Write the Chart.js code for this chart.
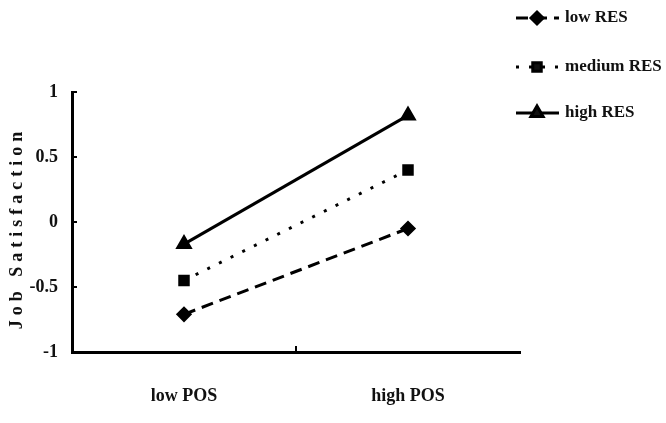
<!DOCTYPE html>
<html>
<head>
<meta charset="utf-8">
<script src="https://cdn.jsdelivr.net/npm/chart.js@4/dist/chart.umd.min.js"></script>
<style>
  body { margin: 0; background: #fff; }
  #wrap { width: 666px; height: 423px; }
</style>
</head>
<body>
<div id="wrap"><canvas id="chart" width="666" height="423"></canvas></div>
<script>
// data
const categories = ['low POS', 'high POS'];
const lowRES = [-0.71, -0.05];
const mediumRES = [-0.45, 0.40];
const highRES = [-0.17, 0.82];
const yTicks = [-1, -0.5, 0, 0.5, 1];
const yTitle = 'Job Satisfaction';

const serif = '"Liberation Serif", "Times New Roman", serif';

// inner tick marks, rotated y title and the legend on the top right
const extrasPlugin = {
    id: 'extras',
    afterDraw(chart) {
        const ctx = chart.ctx;
        const x = chart.scales.x;
        const y = chart.scales.y;
        const area = chart.chartArea;
        ctx.save();
        ctx.strokeStyle = '#000';
        ctx.lineWidth = 2;
        // y tick marks point inward
        yTicks.forEach(v => {
            if (v === -1) return;
            const py = y.getPixelForValue(v);
            ctx.beginPath();
            ctx.moveTo(area.left, py);
            ctx.lineTo(area.left + 5, py);
            ctx.stroke();
        });
        // x tick between the categories
        const mid = (x.getPixelForTick(0) + x.getPixelForTick(1)) / 2;
        ctx.beginPath();
        ctx.moveTo(mid, area.bottom);
        ctx.lineTo(mid, area.bottom - 6);
        ctx.stroke();

        // y title
        ctx.translate(17, (area.top + area.bottom) / 2 + 6);
        ctx.rotate(-Math.PI / 2);
        ctx.font = 'bold 18px ' + serif;
        ctx.letterSpacing = '5px';
        ctx.fillStyle = '#111';
        ctx.textAlign = 'center';
        ctx.textBaseline = 'middle';
        ctx.fillText(yTitle, 0, 0);
        ctx.restore();

        // legend
        ctx.save();
        const rows = [18, 67, 113];
        chart.data.datasets.forEach((ds, i) => {
            const ly = rows[i];
            ctx.strokeStyle = '#000';
            ctx.lineWidth = 3;
            ctx.setLineDash(ds.borderDash || []);
            ctx.beginPath();
            ctx.moveTo(516, ly);
            ctx.lineTo(559, ly);
            ctx.stroke();
            ctx.setLineDash([]);
            Chart.helpers.drawPoint(ctx, {
                pointStyle: ds.pointStyle,
                radius: ds.pointRadius,
                rotation: 0,
                borderWidth: 1
            }, 537, ly);
            ctx.fillStyle = '#111';
            ctx.font = 'bold 17px ' + serif;
            ctx.textAlign = 'left';
            ctx.textBaseline = 'middle';
            ctx.fillText(ds.label, 565, ly);
        });
        ctx.restore();
    }
};

new Chart(document.getElementById('chart'), {
    type: 'line',
    data: {
        labels: categories,
        datasets: [
            {
                label: 'low RES',
                data: lowRES,
                borderColor: '#000',
                backgroundColor: '#000',
                borderWidth: 3,
                borderDash: [12, 7],
                pointStyle: 'rectRot',
                pointRadius: 6
            },
            {
                label: 'medium RES',
                data: mediumRES,
                borderColor: '#000',
                backgroundColor: '#000',
                borderWidth: 3,
                borderDash: [3, 10],
                pointStyle: 'rect',
                pointRadius: 6
            },
            {
                label: 'high RES',
                data: highRES,
                borderColor: '#000',
                backgroundColor: '#000',
                borderWidth: 3,
                pointStyle: 'triangle',
                pointRadius: 7
            }
        ]
    },
    options: {
        responsive: false,
        animation: false,
        layout: { padding: { top: 92, right: 146, left: 0, bottom: 0 } },
        plugins: {
            legend: { display: false },
            tooltip: { enabled: false }
        },
        scales: {
            x: {
                type: 'category',
                offset: true,
                grid: { display: false, drawTicks: false },
                border: { display: true, color: '#000', width: 3 },
                ticks: {
                    padding: 34,
                    color: '#111',
                    font: { family: serif, size: 18, weight: 'bold' }
                },
                afterFit(scale) { scale.height = 71; }
            },
            y: {
                min: -1,
                max: 1,
                afterBuildTicks(scale) { scale.ticks = yTicks.map(v => ({ value: v })); },
                grid: { display: false, drawTicks: false },
                border: { display: true, color: '#000', width: 3 },
                ticks: {
                    padding: 14,
                    color: '#111',
                    font: { family: serif, size: 18, weight: 'bold' },
                    callback: v => String(v)
                },
                afterFit(scale) { scale.width = 72; }
            }
        }
    },
    plugins: [extrasPlugin]
});
</script>
</body>
</html>
